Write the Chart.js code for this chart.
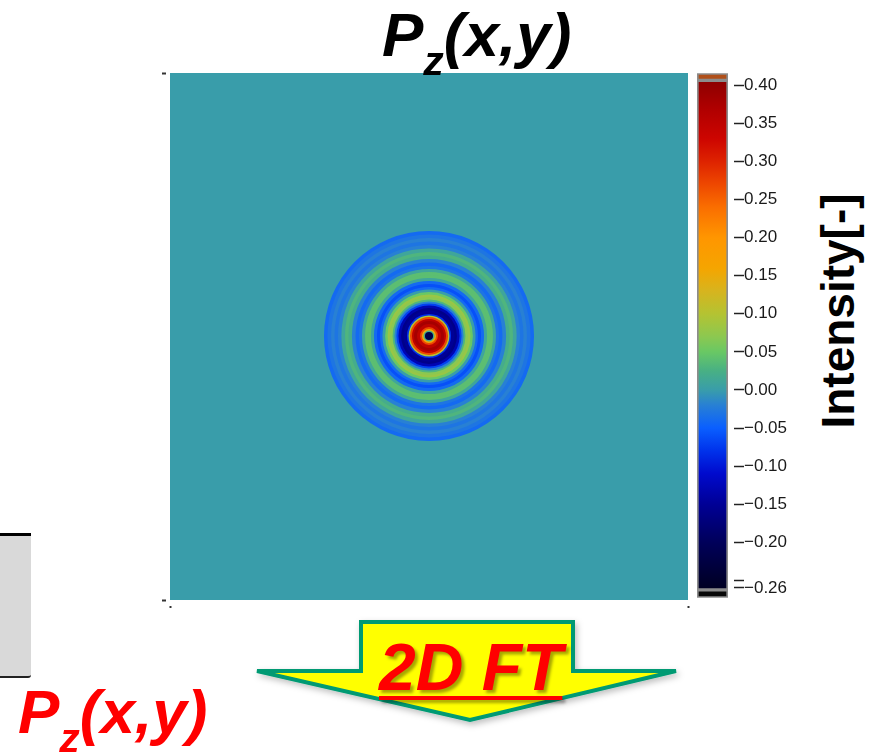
<!DOCTYPE html>
<html>
<head>
<meta charset="utf-8">
<script src="https://cdn.jsdelivr.net/npm/chart.js@4.4.0/dist/chart.umd.min.js"></script>
<style>
html, body { margin: 0; padding: 0; background: #fff; }
body { width: 879px; height: 755px; position: relative; overflow: hidden; font-family: 'Liberation Sans', Arial, sans-serif; }
.abs { position: absolute; }
.formula { font-weight: bold; font-style: italic; font-size: 62px; line-height: 62px; white-space: nowrap; }
.formula .sub { font-size: 41px; position: relative; top: 19px; }
#title { left: 382px; top: 4px; color: #000; z-index: 5; }
#redTitle { left: 18px; top: 681px; color: #ff0000; z-index: 5; }
#cbTitle { left: 838px; top: 311px; transform: translate(-50%, -50%) rotate(-90deg); font-weight: bold; font-size: 46px; white-space: nowrap; color: #000; }
#grayBox { left: 0; top: 533px; width: 31px; height: 140px; background: #d9d9d9; border-top: 3px solid #000; border-bottom: 2px solid #222; border-bottom-right-radius: 3px; }
#ftText { left: 379px; top: 634px; color: #ff0000; font-weight: bold; font-style: italic; font-size: 66px; line-height: 66px; white-space: nowrap;
  text-decoration: underline; text-decoration-thickness: 4px; text-underline-offset: 6px; text-shadow: 3px 3px 3px rgba(0,0,0,0.35); z-index: 6; }
</style>
</head>
<body>
<div class="abs" id="frameWrap" style="left:150px;top:63px;"><canvas id="frame" width="548" height="557"></canvas></div>
<div class="abs" id="ringsWrap" style="z-index:2;"><canvas id="rings"></canvas></div>
<div class="abs" id="cbWrap" style="left:690px;top:63px;"><canvas id="cbar" width="118" height="545"></canvas></div>

<div class="abs formula" id="title">P<span class="sub">z</span>(x,y)</div>
<div class="abs" id="cbTitle">Intensity[-]</div>
<div class="abs" id="grayBox"></div>

<svg class="abs" style="left:0;top:0;z-index:4;" width="879" height="755">
  <defs>
    <filter id="sh" x="-10%" y="-10%" width="130%" height="140%">
      <feDropShadow dx="2" dy="3" stdDeviation="3" flood-color="#000" flood-opacity="0.25"/>
    </filter>
  </defs>
  <polygon points="361,622 573,622 573,671 676,671 470,720 257,671 361,671"
           fill="#ffff00" stroke="#009a73" stroke-width="4" stroke-linejoin="miter" filter="url(#sh)"/>
</svg>
<div class="abs" id="ftText">2D FT</div>
<div class="abs formula" id="redTitle">P<span class="sub">z</span>(x,y)</div>

<script>
// Pz(x,y) radial profile (outer radius of each ring, grid units of a 256-cell grid)
const ringRadius = [2.0, 2.7, 3.5, 4.4, 5.9, 7.4, 8.4, 9.4, 10.1, 10.9,
                    12.6, 13.8, 15.1, 16.1, 17.1, 18.0, 19.3, 20.5, 21.7, 23.0,
                    24.2, 25.7, 27.2, 28.7, 30.2, 31.6, 33.1, 34.6, 36.3, 38.1,
                    39.8, 41.5, 43.3, 45.0, 46.7, 48.4, 50.2, 51.9];
const ringValue  = [-0.22, 0.02, 0.15, 0.27, 0.35, 0.38, 0.35, 0.27, 0.10, -0.08,
                    -0.15, -0.16, -0.13, -0.07, -0.02, 0.03, 0.07, 0.08, 0.05, 0.00,
                    -0.04, -0.06, -0.04, 0.01, 0.04, 0.04, 0.01, -0.03, -0.04, -0.02,
                    0.02, 0.03, 0.01, -0.02, -0.03, -0.02, -0.03, -0.04];
const heatX = [-128, 128];
const heatY = [-130.25, 130.25];

// colour bar
const barRange   = [-0.2626, 0.4066];
const overRange  = [0.4066, 0.416];
const underRange = [-0.273, -0.2626];
const tickValues = [0.40, 0.35, 0.30, 0.25, 0.20, 0.15, 0.10, 0.05, 0.00, -0.05, -0.10, -0.15, -0.20, -0.25, -0.26];
const tickLabels = ['0.40', '0.35', '0.30', '0.25', '0.20', '0.15', '0.10', '0.05', '0.00',
                    '\u22120.05', '\u22120.10', '\u22120.15', '\u22120.20', '', '\u22120.26'];

// colour map (jet-like), value -> rgb
const cmapValue = [0.41, 0.37, 0.33, 0.30, 0.27, 0.24, 0.20, 0.16, 0.13, 0.10, 0.07, 0.05, 0.025, 0.00, -0.02, -0.05, -0.08, -0.11, -0.15, -0.20, -0.26];
const cmapColor = [[140,0,0], [175,0,0], [205,5,0], [222,35,0], [238,72,0], [250,110,0], [255,150,0], [245,165,0],
                   [215,180,30], [180,195,50], [140,200,80], [105,200,100], [72,176,132], [57,157,170],
                   [40,128,212], [10,95,255], [0,50,235], [0,10,205], [0,0,150], [0,0,90], [0,0,35]];

function rgb(c) { return `rgb(${Math.round(c[0])},${Math.round(c[1])},${Math.round(c[2])})`; }
function cmap(v) {
    if (v >= cmapValue[0]) return rgb(cmapColor[0]);
    for (let i = 1; i < cmapValue.length; i++) {
        if (v >= cmapValue[i]) {
            const t = (v - cmapValue[i]) / (cmapValue[i - 1] - cmapValue[i]);
            const a = cmapColor[i], b = cmapColor[i - 1];
            return rgb([a[0] + (b[0] - a[0]) * t, a[1] + (b[1] - a[1]) * t, a[2] + (b[2] - a[2]) * t]);
        }
    }
    return rgb(cmapColor[cmapColor.length - 1]);
}

const teal = cmap(0);
const fillArea = {
    id: 'fillArea',
    beforeDraw(c) {
        const a = c.chartArea;
        c.ctx.save();
        c.ctx.fillStyle = teal;
        c.ctx.fillRect(a.left, a.top, a.right - a.left, a.bottom - a.top);
        c.ctx.restore();
    }
};

// FRAME: axes of the map, with only the end ticks
const frame = new Chart(document.getElementById('frame'), {
    type: 'scatter',
    data: { datasets: [] },
    options: {
        responsive: false, animation: false,
        layout: { padding: { left: 10, top: 10, right: 10, bottom: 10 } },
        plugins: { legend: { display: false }, tooltip: { enabled: false } },
        scales: {
            x: {
                type: 'linear', min: heatX[0], max: heatX[1],
                afterBuildTicks: ax => { ax.ticks = heatX.map(v => ({ value: v })); },
                afterFit: ax => { ax.height = 10; },
                ticks: { display: false }, border: { display: false },
                grid: { drawOnChartArea: false, tickLength: 8, tickColor: '#333', tickWidth: 2, tickBorderDash: [2, 6], tickBorderDashOffset: 2 }
            },
            y: {
                type: 'linear', min: heatY[0], max: heatY[1],
                afterBuildTicks: ax => { ax.ticks = heatY.map(v => ({ value: v })); },
                afterFit: ax => { ax.width = 10; },
                ticks: { display: false }, border: { display: false },
                grid: { drawOnChartArea: false, tickLength: 8, tickColor: '#333', tickWidth: 2, tickBorderDash: [4, 4], tickBorderDashOffset: 0 }
            }
        }
    },
    plugins: [fillArea]
});

// RINGS: concentric discs on a radial scale laid over the map area
const area = frame.chartArea;
const ringsWrap = document.getElementById('ringsWrap');
ringsWrap.style.left = (150 + area.left) + 'px';
ringsWrap.style.top = (63 + area.top) + 'px';
const ringsCanvas = document.getElementById('rings');
ringsCanvas.width = Math.round(area.right - area.left);
ringsCanvas.height = Math.round(area.bottom - area.top);

new Chart(ringsCanvas, {
    type: 'polarArea',
    data: {
        labels: ['Pz'],
        datasets: ringRadius.map((r, i) => ({ data: [r], backgroundColor: cmap(ringValue[i]), borderWidth: 0 }))
    },
    options: {
        responsive: false, animation: false,
        layout: { padding: 0 },
        plugins: { legend: { display: false }, tooltip: { enabled: false } },
        scales: { r: { display: false, min: 0, max: heatX[1] } }
    }
});

// COLOUR BAR
function barGradient(ctx) {
    const chart = ctx.chart;
    if (!chart.chartArea) return cmap(0);
    const y = chart.scales.y;
    const top = y.getPixelForValue(barRange[1]), bot = y.getPixelForValue(barRange[0]);
    const g = chart.ctx.createLinearGradient(0, top, 0, bot);
    cmapValue.forEach((v, i) => {
        const f = (y.getPixelForValue(v) - top) / (bot - top);
        g.addColorStop(Math.min(1, Math.max(0, f)), rgb(cmapColor[i]));
    });
    return g;
}

new Chart(document.getElementById('cbar'), {
    type: 'bar',
    data: {
        labels: [''],
        datasets: [
            { data: [barRange],   backgroundColor: barGradient, borderColor: '#8c8c8c', borderWidth: 2, borderSkipped: false, grouped: false, barPercentage: 1, categoryPercentage: 1 },
            { data: [overRange],  backgroundColor: '#b0501a',  borderColor: '#8c8c8c', borderWidth: 2, borderSkipped: false, grouped: false, barPercentage: 1, categoryPercentage: 1 },
            { data: [underRange], backgroundColor: '#080808',  borderColor: '#8c8c8c', borderWidth: 2, borderSkipped: false, grouped: false, barPercentage: 1, categoryPercentage: 1 }
        ]
    },
    options: {
        responsive: false, animation: false,
        layout: { padding: { left: 7, top: 10, bottom: 10, right: 0 } },
        plugins: { legend: { display: false }, tooltip: { enabled: false } },
        scales: {
            x: { display: false },
            y: {
                position: 'right', min: underRange[0], max: overRange[1],
                afterBuildTicks: ax => { ax.ticks = tickValues.map(v => ({ value: v })); },
                afterFit: ax => { ax.width = 80; },
                border: { display: false },
                grid: { drawOnChartArea: false, tickLength: 16, tickColor: '#222', tickWidth: 1.5, tickBorderDash: [10, 6], tickBorderDashOffset: 10 },
                ticks: {
                    autoSkip: false, padding: 0, color: '#1a1a1a',
                    font: { family: "'Liberation Sans', Arial, sans-serif", size: 17 },
                    callback: (v, i) => tickLabels[i]
                }
            }
        }
    }
});
</script>
</body>
</html>
